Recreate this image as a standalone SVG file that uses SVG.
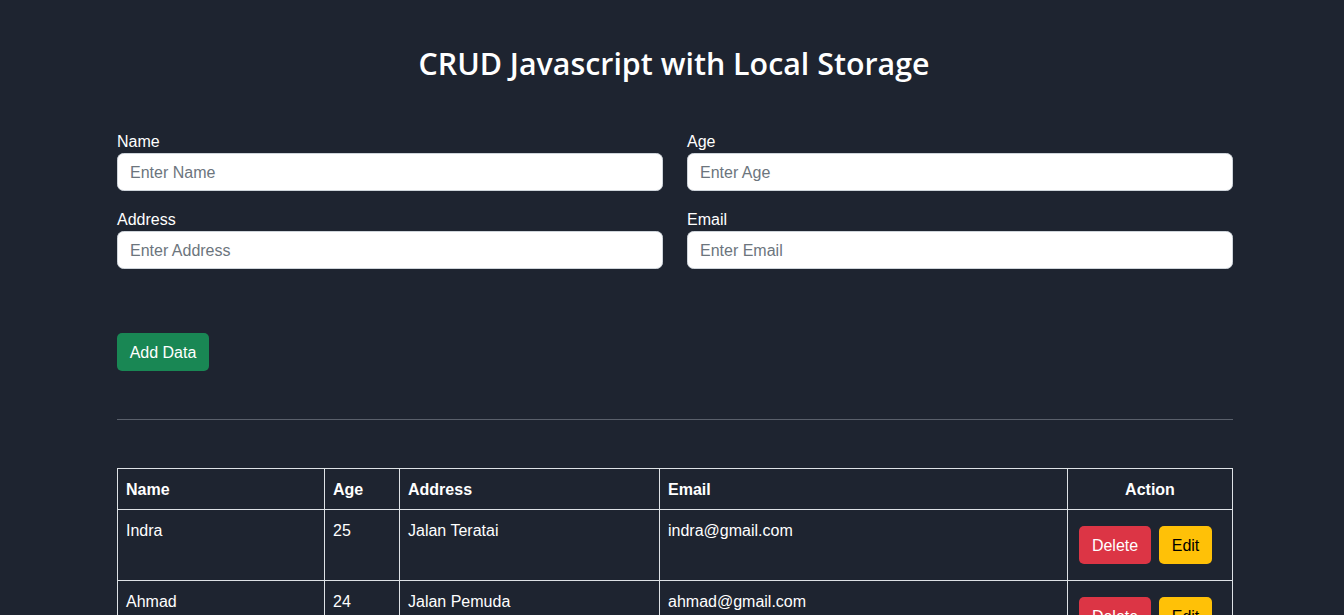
<svg xmlns="http://www.w3.org/2000/svg" width="1344" height="615" viewBox="0 0 1344 615">
<style>
text{font-family:"Liberation Sans","Noto Sans",Arial,sans-serif;font-size:16px;fill:#ffffff}
.title{font-family:"Open Sans","Noto Sans",sans-serif;font-size:31px;font-weight:600;text-anchor:middle}
.ph{fill:#6c757d}
.th{font-weight:bold}
.input{fill:#ffffff;stroke:#ced4da;stroke-width:1}
.grid{stroke:#dee2e6;stroke-width:1;fill:none}
.btn-del{fill:#dc3545}
.btn-edit{fill:#ffc107}
.dark{fill:#000000}
</style>
<rect x="0" y="0" width="1344" height="615" fill="#1e2430"/>
<text class="title" x="674" y="75" textLength="511" lengthAdjust="spacingAndGlyphs">CRUD Javascript with Local Storage</text>

<g id="field-name">
<text x="117" y="147">Name</text>
<rect class="input" x="117.5" y="153.5" width="545" height="37" rx="6"/>
<text class="ph" x="130" y="178">Enter Name</text>
</g>
<g id="field-age">
<text x="687" y="147">Age</text>
<rect class="input" x="687.5" y="153.5" width="545" height="37" rx="6"/>
<text class="ph" x="700" y="178">Enter Age</text>
</g>
<g id="field-address">
<text x="117" y="225">Address</text>
<rect class="input" x="117.5" y="231.5" width="545" height="37" rx="6"/>
<text class="ph" x="130" y="256">Enter Address</text>
</g>
<g id="field-email">
<text x="687" y="225">Email</text>
<rect class="input" x="687.5" y="231.5" width="545" height="37" rx="6"/>
<text class="ph" x="700" y="256">Enter Email</text>
</g>

<g id="btn-add">
<rect x="117" y="333" width="92" height="38" rx="5" fill="#198754"/>
<text x="163" y="358" text-anchor="middle">Add Data</text>
</g>

<line x1="117" y1="419.5" x2="1233" y2="419.5" stroke="#5a606b" stroke-width="1"/>

<g id="table">
<g class="grid">
<rect x="117.5" y="468.5" width="1115" height="160"/>
<line x1="117.5" y1="509.5" x2="1232.5" y2="509.5"/>
<line x1="117.5" y1="580.5" x2="1232.5" y2="580.5"/>
<line x1="324.5" y1="468.5" x2="324.5" y2="615"/>
<line x1="399.5" y1="468.5" x2="399.5" y2="615"/>
<line x1="659.5" y1="468.5" x2="659.5" y2="615"/>
<line x1="1067.5" y1="468.5" x2="1067.5" y2="615"/>
</g>
<g id="header">
<text class="th" x="126" y="495">Name</text>
<text class="th" x="333" y="495">Age</text>
<text class="th" x="408" y="495">Address</text>
<text class="th" x="668" y="495">Email</text>
<text class="th" x="1150" y="495" text-anchor="middle">Action</text>
</g>
<g id="row1">
<text x="126" y="536">Indra</text>
<text x="333" y="536">25</text>
<text x="408" y="536">Jalan Teratai</text>
<text x="668" y="536">indra@gmail.com</text>
<rect class="btn-del" x="1079" y="526" width="72" height="38" rx="5"/>
<text x="1115" y="551" text-anchor="middle">Delete</text>
<rect class="btn-edit" x="1159" y="526" width="53" height="38" rx="5"/>
<text class="dark" x="1185.5" y="551" text-anchor="middle">Edit</text>
</g>
<g id="row2">
<text x="126" y="607">Ahmad</text>
<text x="333" y="607">24</text>
<text x="408" y="607">Jalan Pemuda</text>
<text x="668" y="607">ahmad@gmail.com</text>
<rect class="btn-del" x="1079" y="597" width="72" height="38" rx="5"/>
<text x="1115" y="622" text-anchor="middle">Delete</text>
<rect class="btn-edit" x="1159" y="597" width="53" height="38" rx="5"/>
<text class="dark" x="1185.5" y="622" text-anchor="middle">Edit</text>
</g>
</g>
</svg>
